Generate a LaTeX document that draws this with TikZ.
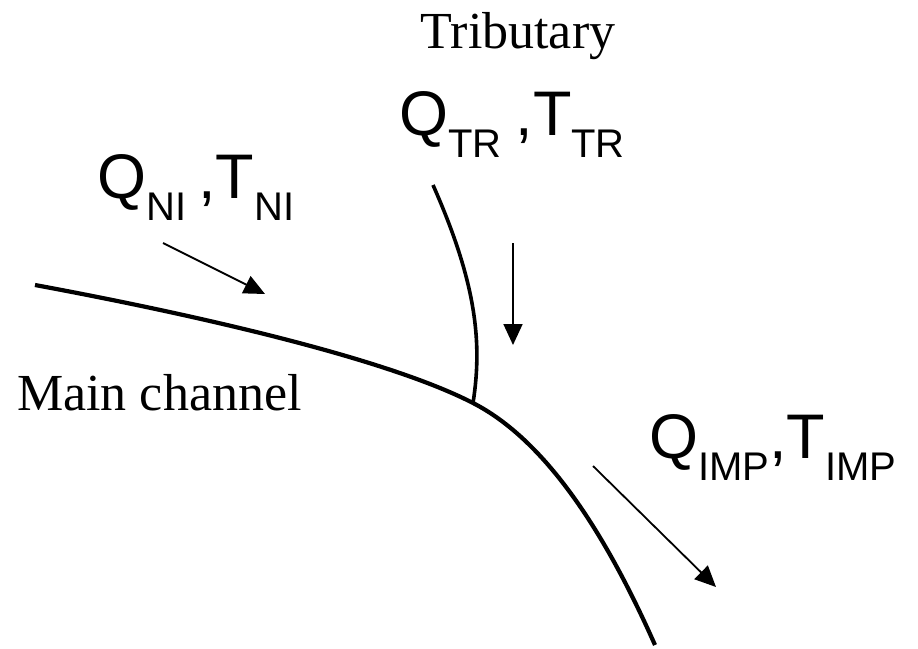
\documentclass[tikz,border=0pt]{standalone}
\usepackage{fontspec}
\setmainfont{Liberation Serif}
\newfontfamily\arialf{Liberation Sans}
\usetikzlibrary{arrows.meta}
\newcommand{\bigf}{\arialf\fontsize{63}{63}\selectfont}
\newcommand{\subf}[1]{\raisebox{-22pt}{\arialf\fontsize{40}{40}\selectfont #1}}
\begin{document}
\begin{tikzpicture}[x=1pt,y=-1pt,
  channel/.style={line width=4.2pt},
  trib/.style={line width=3.6pt},
  flow/.style={line width=1.8pt,-{Triangle[length=21pt,width=19pt]}},
  serif/.style={inner sep=0pt,font=\fontsize{52}{52}\selectfont},
  qlabel/.style={inner sep=0pt,anchor=base west}]
\useasboundingbox (0,0) rectangle (918,648);
% coordinates
\coordinate (m0) at (35,285);
\coordinate (j) at (473,403);
\coordinate (m7) at (655,645);
\coordinate (t0) at (433,185);
% channels
\draw[channel] (m0) .. controls (170,310) and (380,355) .. (j)
                    .. controls (555,445) and (615,555) .. (m7);
\draw[trib] (t0) .. controls (475,280) and (483,340) .. (j);
% flow arrows
\coordinate (a0) at (163,243);
\coordinate (a1) at (265,294);
\coordinate (b0) at (513,243);
\coordinate (b1) at (513,345);
\coordinate (c0) at (593,466);
\coordinate (c1) at (716,587);
\draw[flow] (a0) -- (a1);
\draw[flow] (b0) -- (b1);
\draw[flow] (c0) -- (c1);
% labels
\node[serif,anchor=base] (trib) at (518,48) {Tributary};
\node[serif,anchor=base west] (main) at (17,410) {Main channel};
\node[qlabel] (qni) at (97,198) {\bigf Q\subf{NI}\hspace{12pt},T\subf{NI}};
\node[qlabel] (qtr) at (399,135) {\bigf Q\subf{TR}\hspace{14pt},T\subf{TR}};
\node[qlabel] (qimp) at (649,458) {\bigf Q\subf{IMP},T\subf{IMP}};
\end{tikzpicture}
\end{document}
